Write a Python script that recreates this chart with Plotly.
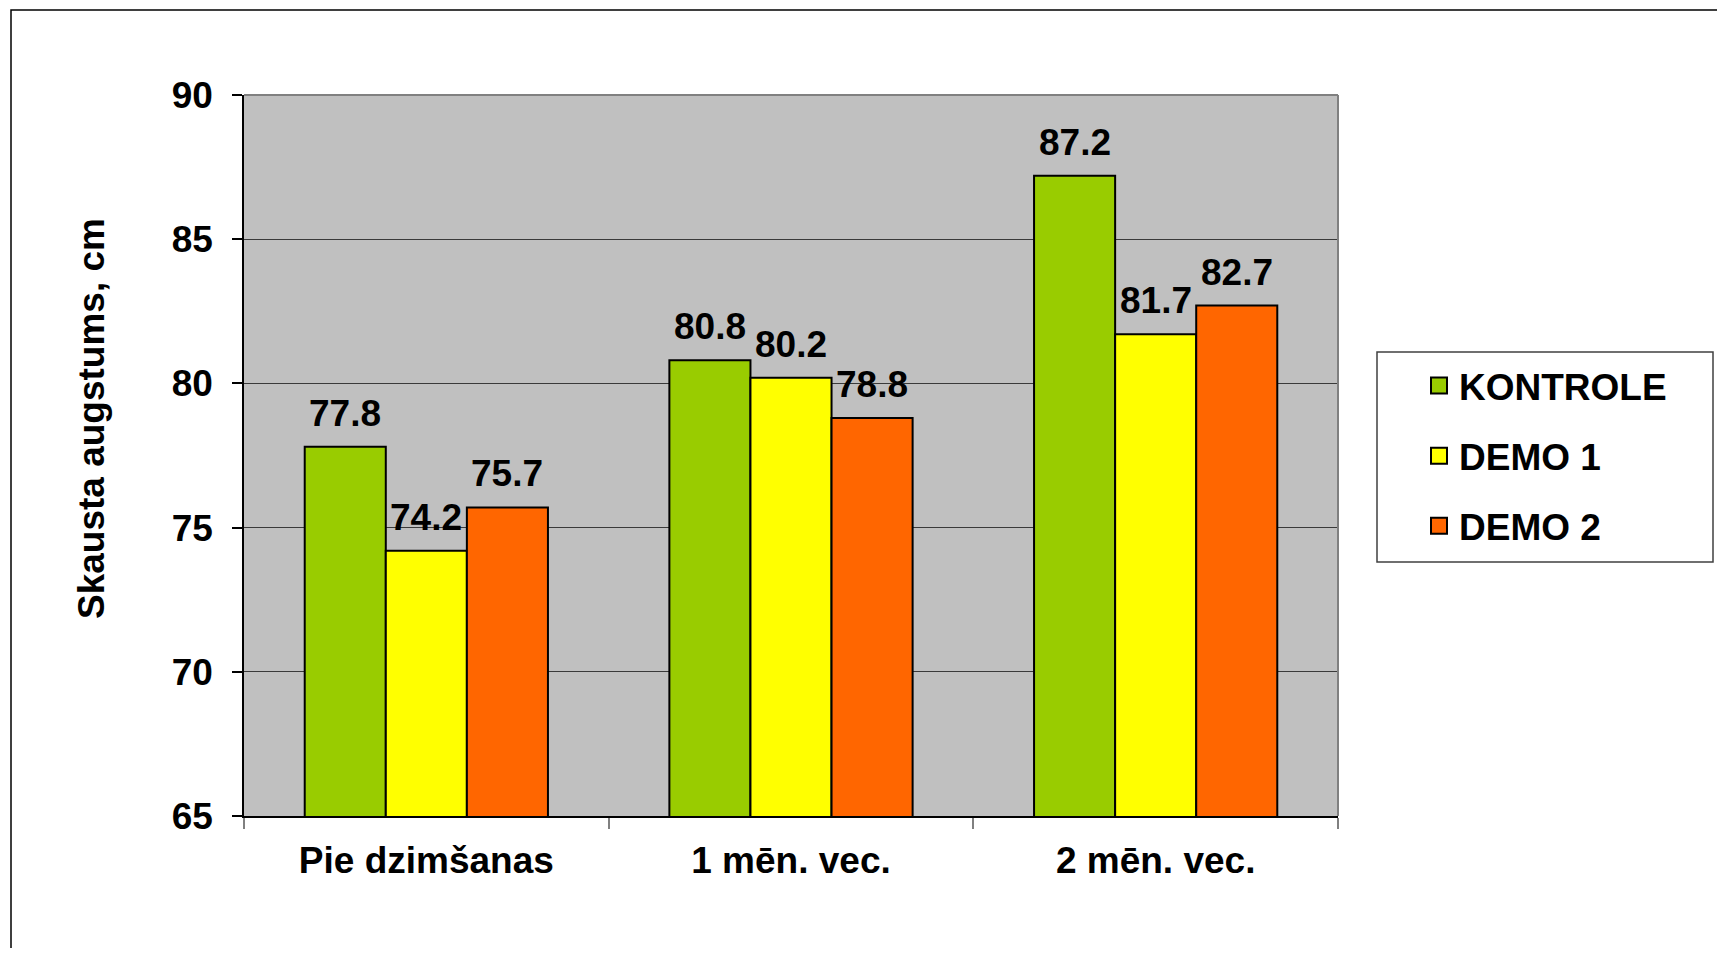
import plotly.graph_objects as go

categories = ["Pie dzimšanas", "1 mēn. vec.", "2 mēn. vec."]
series_names = ["KONTROLE", "DEMO 1", "DEMO 2"]
kontrole = [77.8, 80.8, 87.2]
demo1 = [74.2, 80.2, 81.7]
demo2 = [75.7, 78.8, 82.7]
colors = ["#99CC00", "#FFFF00", "#FF6600"]
y_ticks = [65, 70, 75, 80, 85, 90]
y_title = "Skausta augstums, cm"

FONT = "Liberation Sans, Arial, sans-serif"
FS = 37
OFF = 8  # default page body margin
W, H = 1725 - 2 * OFF, 956 - 2 * OFF
L, T = 244 - OFF, 95 - OFF
R = W - (1338 - OFF)
B = H - (816 - OFF)
plot_w = W - L - R
plot_h = H - T - B

def px_x(p):
    # p is a pixel x in screen (reference) coordinates
    return (p - OFF - L) / plot_w

def px_y(p):
    return (H - B - (p - OFF)) / plot_h

series = [kontrole, demo1, demo2]
fig = go.Figure()
for name, vals, col in zip(series_names, series, colors):
    fig.add_trace(go.Bar(
        x=categories, y=vals, name=name, showlegend=False,
        marker=dict(color=col, line=dict(color="black", width=2)),
        cliponaxis=False,
    ))
# legend entries
for i, (name, col) in enumerate(zip(series_names, colors)):
    fig.add_trace(go.Scatter(
        x=[None], y=[None], mode="markers", name=name,
        legendgroup=name,
        marker=dict(symbol="square", size=16, color=col, line=dict(color="black", width=2)),
    ))

bargap = 0.333
cat_w = plot_w / len(categories)
bar_w = cat_w * (1 - bargap) / len(series)
annotations = []
for si, vals in enumerate(series):
    for ci, v in enumerate(vals):
        annotations.append(dict(
            x=categories[ci], y=v, xref="x", yref="y",
            text=f"{v:.1f}", showarrow=False,
            xshift=(si - 1) * bar_w, yshift=11, yanchor="bottom",
            font=dict(family=FONT, size=FS, color="black", weight="bold"),
        ))
annotations.append(dict(
    x=px_x(91), y=px_y(419), xref="paper", yref="paper", text=y_title,
    textangle=-90, showarrow=False, xanchor="center", yanchor="middle",
    font=dict(family=FONT, size=FS, color="black", weight="bold"),
))

shapes = [
    # outer border
    dict(type="rect", xref="paper", yref="paper",
         x0=px_x(11), x1=px_x(1725 + 50), y0=px_y(956 + 50), y1=px_y(10),
         line=dict(color="black", width=1.5), fillcolor="rgba(0,0,0,0)", layer="below"),
    # plot-area top/right border
    dict(type="line", xref="paper", yref="paper", x0=0, x1=1, y0=1, y1=1,
         line=dict(color="#808080", width=2)),
    dict(type="line", xref="paper", yref="paper", x0=1, x1=1, y0=0, y1=1,
         line=dict(color="#808080", width=2)),
    # legend box
    dict(type="rect", xref="paper", yref="paper",
         x0=px_x(1377), x1=px_x(1713), y0=px_y(562), y1=px_y(352),
         line=dict(color="#404040", width=1.5), fillcolor="white", layer="below"),
]

fig.update_layout(
    width=W, height=H,
    margin=dict(l=L, r=R, t=T, b=B),
    paper_bgcolor="white", plot_bgcolor="#C0C0C0",
    barmode="group", bargap=bargap, bargroupgap=0,
    font=dict(family=FONT, size=FS, color="black"),
    annotations=annotations, shapes=shapes,
    showlegend=True,
    legend=dict(
        x=px_x(1419), y=px_y(355), xanchor="left", yanchor="top",
        bgcolor="rgba(0,0,0,0)", borderwidth=0,
        font=dict(family=FONT, size=FS, color="black", weight="bold"),
        tracegroupgap=19, traceorder="grouped",
    ),
)
fig.update_xaxes(
    type="category", showgrid=False, showline=True, linecolor="black", linewidth=1.5,
    ticks="outside", tickson="boundaries", ticklen=11, tickcolor="#808080", tickwidth=2,
    tickfont=dict(family=FONT, size=FS, color="black", weight="bold"),
    ticklabelstandoff=11,
)
fig.update_yaxes(
    range=[65, 90], tickvals=y_ticks, showgrid=True, gridcolor="#3a3a3a", gridwidth=1,
    showline=True, linecolor="black", linewidth=1.5, zeroline=False,
    ticks="outside", ticklen=10, tickcolor="black", tickwidth=1.5,
    tickfont=dict(family=FONT, size=FS, color="black", weight="bold"),
    ticklabelstandoff=12,
)

fig.write_html("out.html")
